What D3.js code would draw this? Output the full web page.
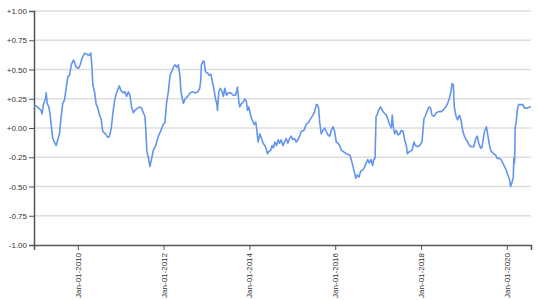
<!DOCTYPE html>
<html><head><meta charset="utf-8">
<script src="https://cdn.jsdelivr.net/npm/d3@7"></script>
<style>
body{margin:0;background:#fff}
text{font-family:"Liberation Sans",Arial,sans-serif}
</style>
</head><body>
<svg id="c" width="538" height="300"></svg>
<script>
const dates = [
"2008-12-24","2009-01-11","2009-02-02","2009-02-23","2009-03-03","2009-03-14","2009-04-01","2009-04-07","2009-04-15","2009-04-29",
"2009-05-11","2009-05-22","2009-06-02","2009-06-16","2009-07-01","2009-07-14","2009-07-29","2009-08-12","2009-08-26","2009-09-10",
"2009-09-24","2009-10-08","2009-10-22","2009-11-06","2009-11-19","2009-11-28","2009-12-18","2010-01-07","2010-01-21","2010-02-08",
"2010-02-27","2010-03-19","2010-04-05","2010-04-22","2010-04-30","2010-05-09","2010-05-23","2010-06-07","2010-06-21","2010-07-05",
"2010-07-20","2010-08-02","2010-08-25","2010-09-14","2010-09-28","2010-10-13","2010-10-28","2010-11-13","2010-11-27","2010-12-12",
"2010-12-20","2011-01-03","2011-01-23","2011-02-06","2011-02-20","2011-03-07","2011-03-20","2011-04-04","2011-04-18","2011-05-02",
"2011-05-25","2011-06-14","2011-06-28","2011-07-13","2011-07-26","2011-08-04","2011-08-12","2011-08-24","2011-09-07","2011-09-22",
"2011-10-06","2011-10-26","2011-11-18","2011-12-10","2011-12-29","2012-01-13","2012-01-27","2012-02-11","2012-02-25","2012-03-10",
"2012-03-25","2012-04-07","2012-04-22","2012-05-06","2012-05-20","2012-05-28","2012-06-09","2012-06-18","2012-07-02","2012-07-25",
"2012-08-13","2012-09-03","2012-09-25","2012-10-20","2012-11-04","2012-11-12","2012-11-18","2012-12-02","2012-12-11","2012-12-23",
"2013-01-09","2013-01-23","2013-02-06","2013-02-17","2013-03-03","2013-03-18","2013-03-29","2013-04-04","2013-04-15","2013-04-29",
"2013-05-13","2013-05-25","2013-06-05","2013-06-20","2013-07-03","2013-07-26","2013-08-15","2013-09-04","2013-09-13","2013-09-21",
"2013-10-03","2013-10-11","2013-10-26","2013-11-08","2013-11-23","2013-12-07","2013-12-16","2013-12-27","2014-01-13","2014-01-24",
"2014-02-10","2014-02-24","2014-03-05","2014-03-16","2014-03-31","2014-04-14","2014-04-28","2014-05-18","2014-06-04","2014-06-15",
"2014-07-02","2014-07-13","2014-07-25","2014-08-06","2014-08-20","2014-09-03","2014-09-15","2014-09-28","2014-10-13","2014-10-27",
"2014-11-10","2014-11-24","2014-12-09","2014-12-23","2015-01-06","2015-01-20","2015-02-03","2015-02-18","2015-03-04","2015-03-18",
"2015-04-10","2015-04-29","2015-05-20","2015-06-06","2015-06-26","2015-07-10","2015-07-24","2015-08-01","2015-08-13","2015-08-22",
"2015-09-04","2015-09-19","2015-10-03","2015-10-17","2015-11-01","2015-11-15","2015-11-29","2015-12-13","2015-12-28","2016-01-10",
"2016-01-25","2016-02-08","2016-02-22","2016-03-07","2016-04-05","2016-05-04","2016-05-17","2016-06-01","2016-06-15","2016-06-24",
"2016-07-07","2016-07-22","2016-08-05","2016-08-21","2016-09-05","2016-09-20","2016-10-04","2016-10-18","2016-11-01","2016-11-16",
"2016-11-24","2016-12-05","2016-12-11","2016-12-14","2016-12-22","2017-01-04","2017-01-21","2017-02-05","2017-02-19","2017-03-11",
"2017-03-26","2017-04-08","2017-04-23","2017-05-01","2017-05-10","2017-05-21","2017-06-04","2017-06-19","2017-07-03","2017-07-17",
"2017-08-01","2017-08-14","2017-08-29","2017-09-06","2017-09-26","2017-10-16","2017-11-02","2017-11-13","2017-12-01","2017-12-20",
"2018-01-09","2018-01-26","2018-02-06","2018-02-20","2018-03-09","2018-03-23","2018-04-04","2018-04-21","2018-05-11","2018-05-30",
"2018-06-22","2018-07-07","2018-07-20","2018-08-01","2018-08-15","2018-08-29","2018-09-13","2018-09-21","2018-10-03","2018-10-11",
"2018-10-26","2018-11-08","2018-11-23","2018-12-07","2018-12-21","2019-01-05","2019-01-20","2019-02-02","2019-02-17","2019-03-03",
"2019-03-26","2019-04-09","2019-04-24","2019-05-07","2019-05-22","2019-06-02","2019-06-14","2019-06-25","2019-07-12","2019-07-23",
"2019-08-07","2019-08-21","2019-09-12","2019-09-27","2019-10-11","2019-10-31","2019-11-14","2019-11-28","2019-12-13","2019-12-27",
"2020-01-09","2020-01-24","2020-02-02","2020-02-16","2020-02-25","2020-03-01","2020-03-07","2020-03-13","2020-03-21","2020-03-30",
"2020-04-10","2020-04-27","2020-05-17","2020-05-31","2020-06-23","2020-07-13","2020-07-25"
];
const values = [
0.18,0.19,0.17,0.15,0.12,0.20,0.25,0.30,0.21,0.18,
0.11,0.00,-0.09,-0.12,-0.15,-0.10,-0.05,0.10,0.21,0.24,
0.34,0.44,0.45,0.54,0.57,0.58,0.52,0.51,0.54,0.60,
0.64,0.63,0.62,0.64,0.54,0.37,0.31,0.20,0.17,0.11,
0.07,-0.03,-0.05,-0.08,-0.07,0.00,0.14,0.25,0.30,0.34,
0.36,0.32,0.30,0.31,0.27,0.31,0.28,0.18,0.13,0.15,
0.17,0.18,0.17,0.13,0.10,-0.03,-0.20,-0.25,-0.33,-0.26,
-0.19,-0.15,-0.07,-0.02,0.03,0.05,0.22,0.31,0.45,0.48,
0.52,0.54,0.52,0.54,0.44,0.31,0.25,0.21,0.25,0.27,
0.30,0.31,0.30,0.31,0.34,0.40,0.54,0.57,0.57,0.48,
0.47,0.45,0.46,0.41,0.34,0.25,0.21,0.15,0.31,0.34,
0.31,0.27,0.34,0.28,0.30,0.30,0.28,0.28,0.31,0.35,
0.22,0.18,0.21,0.22,0.25,0.22,0.15,0.18,0.10,0.07,
0.03,0.05,-0.02,-0.12,-0.05,-0.09,-0.13,-0.16,-0.22,-0.20,
-0.19,-0.15,-0.17,-0.12,-0.15,-0.10,-0.13,-0.10,-0.15,-0.12,
-0.09,-0.13,-0.09,-0.07,-0.10,-0.09,-0.12,-0.10,-0.07,-0.03,
-0.02,0.03,0.05,0.08,0.11,0.14,0.20,0.20,0.17,0.05,
-0.05,-0.02,0.00,-0.03,-0.06,-0.07,-0.02,0.01,-0.03,-0.12,
-0.13,-0.15,-0.19,-0.20,-0.22,-0.23,-0.27,-0.33,-0.39,-0.43,
-0.40,-0.42,-0.37,-0.36,-0.34,-0.30,-0.27,-0.30,-0.27,-0.32,
-0.27,-0.26,-0.03,0.10,0.11,0.15,0.18,0.15,0.13,0.11,
0.07,0.03,0.00,0.11,0.01,-0.05,-0.02,-0.06,-0.05,-0.02,
-0.03,-0.10,-0.15,-0.22,-0.20,-0.19,-0.12,-0.15,-0.16,-0.15,
-0.12,0.08,0.10,0.14,0.18,0.17,0.11,0.10,0.13,0.14,
0.14,0.15,0.17,0.18,0.21,0.25,0.31,0.38,0.37,0.18,
0.10,0.07,0.11,0.07,-0.02,-0.07,-0.10,-0.12,-0.15,-0.16,
-0.16,-0.10,-0.07,-0.13,-0.17,-0.17,-0.10,-0.03,0.01,-0.06,
-0.15,-0.20,-0.22,-0.23,-0.26,-0.26,-0.27,-0.30,-0.33,-0.36,
-0.40,-0.44,-0.50,-0.46,-0.42,-0.26,-0.30,0.01,0.05,0.15,
0.20,0.20,0.20,0.17,0.17,0.18,0.18
];
const yTicks = [1, 0.75, 0.5, 0.25, 0, -0.25, -0.5, -0.75, -1];
const xTickYears = [2010, 2012, 2014, 2016, 2018, 2020];

const W = 538, H = 300;
const margin = {top: 11, right: 7, bottom: 55, left: 34};
const iw = W - margin.left - margin.right, ih = H - margin.top - margin.bottom;
const parse = d3.timeParse("%Y-%m-%d");
const data = dates.map((d, i) => ({date: parse(d), value: values[i]}));

const svg = d3.select("#c");
const g = svg.append("g").attr("transform", `translate(${margin.left},${margin.top})`);

const x = d3.scaleTime().domain(d3.extent(data, d => d.date)).range([0, iw]);
const y = d3.scaleLinear().domain([-1, 1]).range([ih, 0]);

const loc = d3.formatLocale({decimal: ".", thousands: ",", grouping: [3], currency: ["$", ""], minus: "-"});
const fmt = loc.format("+.2f");

// grid
g.append("g").selectAll("line").data(yTicks.filter(t => t !== -1)).join("line")
  .attr("x1", 0).attr("x2", iw)
  .attr("y1", d => y(d)).attr("y2", d => y(d))
  .attr("stroke", "#dedede").attr("stroke-width", 1.5);

// y axis
const yAxis = g.append("g").call(d3.axisLeft(y).tickValues(yTicks).tickFormat(fmt).tickSize(5).tickPadding(2));
// x axis
const xAxis = g.append("g").attr("transform", `translate(0,${ih})`)
  .call(d3.axisBottom(x).tickValues(xTickYears.map(yr => new Date(yr, 0, 1))).tickFormat(d3.timeFormat("%b-%d-%Y")).tickSize(5));
xAxis.selectAll("text")
  .attr("transform", "rotate(-90)")
  .attr("text-anchor", "end")
  .attr("x", -8).attr("y", 0).attr("dy", "0.32em");

[yAxis, xAxis].forEach(a => {
  a.select(".domain").attr("stroke", "#555").attr("stroke-width", 1.5);
  a.selectAll(".tick line").attr("stroke", "#555").attr("stroke-width", 1);
  a.selectAll("text").attr("fill", "#333").attr("font-size", "8px").attr("font-family", "'Liberation Sans', Arial, sans-serif");
});

// line
g.append("path").datum(data)
  .attr("fill", "none").attr("stroke", "#6495ed").attr("stroke-width", 1.6)
  .attr("stroke-linejoin", "round")
  .attr("d", d3.line().x(d => x(d.date)).y(d => y(d.value)));
</script>
</body></html>
